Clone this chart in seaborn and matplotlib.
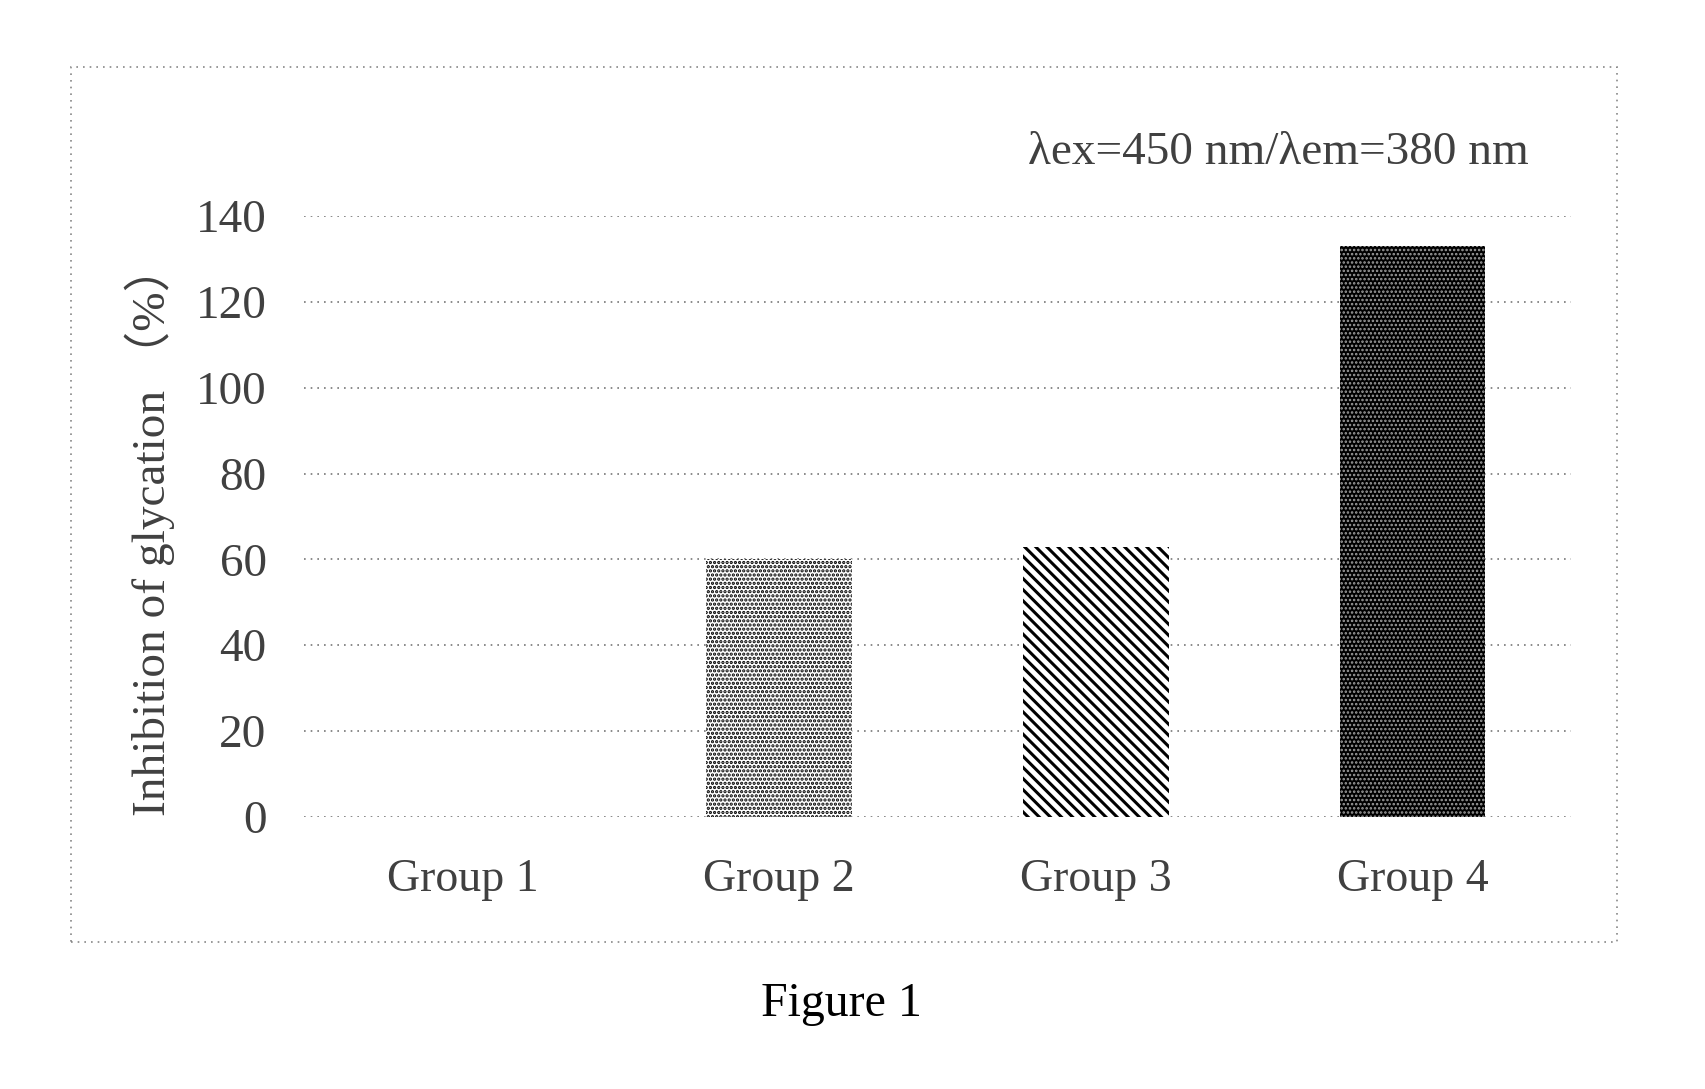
import matplotlib
matplotlib.use("Agg")
import matplotlib.pyplot as plt
import seaborn as sns
import pandas as pd
from matplotlib.patches import Rectangle

groups = ["Group 1", "Group 2", "Group 3", "Group 4"]
values = [0, 60, 63, 133]
yticks = [0, 20, 40, 60, 80, 100, 120, 140]
ylabel = "Inhibition of glycation （%）"
annot = "λex=450 nm/λem=380 nm"
caption = "Figure 1"

sns.set_theme(style="white")
plt.rcParams['font.family'] = ['Liberation Serif', 'Noto Sans CJK SC', 'DejaVu Sans']
plt.rcParams['hatch.linewidth'] = 1.6

df = pd.DataFrame({"group": groups, "value": values})

fig = plt.figure(figsize=(17.05, 10.89), dpi=100)
ax = fig.add_axes([0.1783, 0.2498, 0.7431, 0.5519])

sns.barplot(data=df, x="group", y="value", ax=ax, width=0.46, color="white",
            saturation=1, linewidth=0, zorder=3)

styles = [
    dict(face="white", edge="white", hatch="", hlw=1.0),
    dict(face="white", edge="black", hatch="....", hlw=1.6),
    dict(face="white", edge="black", hatch="\\\\\\", hlw=2.2),
    dict(face="black", edge="#a0a0a0", hatch="....", hlw=1.2),
]
for p, s in zip(ax.patches, styles):
    p.set_facecolor(s["face"])
    p.set_edgecolor(s["edge"])
    p.set_hatch(s["hatch"])
    p.set_linewidth(0)
    if hasattr(p, "set_hatch_linewidth"):
        p.set_hatch_linewidth(s["hlw"])

ax.set_ylim(0, 140)
ax.set_xlim(-0.5, 3.5)
ax.set_yticks(yticks)
ax.set_yticklabels([str(t) for t in yticks])
for t in yticks:
    ax.axhline(t, color="#777777", linestyle=(0, (1, 3)), linewidth=1.2, zorder=1)
for s in ax.spines.values():
    s.set_visible(False)
ax.grid(False)
txtc = "#404040"
ax.tick_params(axis="y", length=0, labelsize=34, colors=txtc, pad=27)
ax.tick_params(axis="x", length=0, labelsize=33, colors=txtc, pad=30)
ax.set_xlabel("")
ax.set_ylabel("")

fig.text(150 / 1705, 1 - 530 / 1089, ylabel, rotation=90, ha="center", va="center",
         fontsize=34, color=txtc)
fig.text(1278 / 1705, 1 - 153 / 1089, annot, ha="center", va="center",
         fontsize=34, color=txtc)
fig.text(841 / 1705, 1 - 1004 / 1089, caption, ha="center", va="center",
         fontsize=34.5, color="black")

fig.patches.append(Rectangle((71 / 1705, 1 - 942 / 1089), (1617 - 71) / 1705,
                             (942 - 67) / 1089, transform=fig.transFigure,
                             fill=False, edgecolor="#888888", linewidth=1.2,
                             linestyle=(0, (1, 3))))

fig.savefig("out.png", dpi=100, facecolor="white")
